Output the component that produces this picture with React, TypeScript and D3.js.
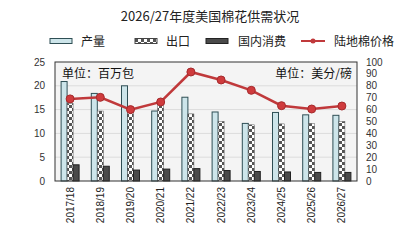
import React from "react";
import * as d3 from "d3";

const categories = ["2017/18","2018/19","2019/20","2020/21","2021/22","2022/23","2023/24","2024/25","2025/26","2026/27"];
const production = [20.9,18.4,20.0,14.7,17.6,14.5,12.1,14.4,13.9,13.8];
const exportsV = [16.3,14.7,14.7,16.1,14.1,12.5,11.8,12.0,12.1,12.5];
const domestic = [3.4,3.1,2.3,2.5,2.6,2.2,2.0,1.9,1.8,1.8];
const price = [69,70.3,60,66.4,91.6,84.9,76.2,63.3,60.5,63];
const leftTicks = [0,5,10,15,20,25];
const rightTicks = [0,10,20,30,40,50,60,70,80,90,100];

const W = 413, H = 240;
const M = { l: 55, r: 357, t: 62, b: 181 };
const font = "'Noto Sans CJK SC', 'Noto Sans', sans-serif";
const numFont = "'Liberation Sans', Arial, sans-serif";

export default function App() {
  const x = d3.scaleBand<string>().domain(categories).range([M.l, M.r]).paddingInner(0).paddingOuter(0);
  const yL = d3.scaleLinear().domain([0, 25]).range([M.b, M.t]);
  const yR = d3.scaleLinear().domain([0, 100]).range([M.b, M.t]);
  const bw = 6;
  const line = d3.line<number>().x((_, i) => x(categories[i])! + x.bandwidth() / 2).y(d => yR(d));
  const cx = (i: number) => x(categories[i])! + x.bandwidth() / 2;

  return (
    <svg width={W} height={H} style={{ position: "absolute", left: 0, top: 0, background: "#fff" }}>
      <defs>
        <pattern id="chk" width="6" height="6" patternUnits="userSpaceOnUse">
          <rect width="6" height="6" fill="#fff" />
          <rect width="3" height="3" fill="#555" />
          <rect x="3" y="3" width="3" height="3" fill="#555" />
        </pattern>
      </defs>
      <text x={210} y={21} textAnchor="middle" fontFamily={font} fontSize={13} fill="#222">2026/27年度美国棉花供需状况</text>
      {/* legend */}
      <rect x={50} y={38.5} width={22} height={5} fill="#cde5ea" stroke="#2f4f55" strokeWidth={1} />
      <text x={81} y={45.5} fontFamily={font} fontSize={12} fill="#222">产量</text>
      <rect x={135} y={38.5} width={22} height={5} fill="url(#chk)" stroke="#444" strokeWidth={1} />
      <text x={166} y={45.5} fontFamily={font} fontSize={12} fill="#222">出口</text>
      <rect x={206} y={38.5} width={22} height={5} fill="#4a4a4a" stroke="#222" strokeWidth={1} />
      <text x={238} y={45.5} fontFamily={font} fontSize={12} fill="#222">国内消费</text>
      <line x1={301} x2={325} y1={41} y2={41} stroke="#c0393b" strokeWidth={2} />
      <circle cx={313} cy={41} r={2.5} fill="#c0393b" />
      <text x={334} y={45.5} fontFamily={font} fontSize={12} fill="#222">陆地棉价格</text>

      {/* plot bg */}
      <rect x={M.l} y={M.t} width={M.r - M.l} height={M.b - M.t} fill="#f4f4f4" />
      {leftTicks.slice(1, -1).map(t => (
        <line key={t} x1={M.l} x2={M.r} y1={yL(t)} y2={yL(t)} stroke="#dcdcdc" strokeWidth={1} />
      ))}
      {categories.map((c, i) => {
        const c0 = cx(i);
        return (
          <g key={c}>
            <rect x={c0 - 9} y={yL(production[i])} width={bw} height={M.b - yL(production[i])} fill="#cde5ea" stroke="#2f4f55" strokeWidth={1} />
            <rect x={c0 - 3} y={yL(exportsV[i])} width={bw} height={M.b - yL(exportsV[i])} fill="url(#chk)" stroke="#555" strokeWidth={0.5} />
            <rect x={c0 + 3} y={yL(domestic[i])} width={bw} height={M.b - yL(domestic[i])} fill="#4a4a4a" stroke="#222" strokeWidth={1} />
          </g>
        );
      })}
      <path d={line(price)!} fill="none" stroke="#c0393b" strokeWidth={2.5} />
      {price.map((p, i) => (
        <circle key={i} cx={cx(i)} cy={yR(p)} r={4} fill="#cf3b3d" stroke="#a52a2c" strokeWidth={1} />
      ))}
      <rect x={M.l} y={M.t} width={M.r - M.l} height={M.b - M.t} fill="none" stroke="#333" strokeWidth={1} />

      <text x={62} y={78} fontFamily={font} fontSize={12} fill="#111">单位：百万包</text>
      <text x={352} y={78} textAnchor="end" fontFamily={font} fontSize={12} fill="#111">单位：美分/磅</text>

      {leftTicks.map(t => (
        <text key={t} x={45} y={yL(t) + 3.5} textAnchor="end" fontFamily={numFont} fontSize={10} fill="#333">{t}</text>
      ))}
      {rightTicks.map(t => (
        <text key={t} x={366} y={yR(t) + 3.5} textAnchor="start" fontFamily={numFont} fontSize={10} fill="#333">{t}</text>
      ))}
      {categories.map((c, i) => (
        <text key={c} transform={`translate(${cx(i) + 3.5},${187}) rotate(-90)`} textAnchor="end" fontFamily={numFont} fontSize={10} fill="#222">{c}</text>
      ))}
    </svg>
  );
}
